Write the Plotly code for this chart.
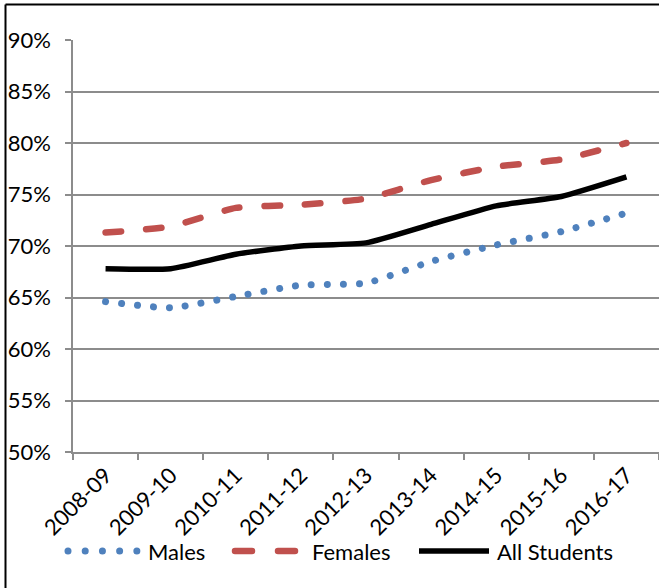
import plotly.graph_objects as go

# Graduation-rate style percentages by school year
years = ["2008-09", "2009-10", "2010-11", "2011-12", "2012-13",
         "2013-14", "2014-15", "2015-16", "2016-17"]
males = [64.6, 64.0, 65.1, 66.2, 66.4, 68.5, 70.1, 71.4, 73.2]
females = [71.3, 71.9, 73.7, 74.0, 74.6, 76.4, 77.7, 78.4, 80.0]
all_students = [67.8, 67.8, 69.2, 70.0, 70.3, 72.1, 73.9, 74.8, 76.7]

series_names = ["Males", "Females", "All Students"]
BLUE = "#4F81BD"
RED = "#C0504D"
BLACK = "#000000"
FONT = "Lato"
FS = 22

# plot-area geometry in pixels (used to place the frame and the legend)
W, H = 659, 588
ML, MR, MT, MB = 73, 0, 40, 136
PW, PH = W - ML - MR, H - MT - MB


def px_x(px):
    return (px - ML) / PW


def px_y(py):
    return (H - MB - py) / PH


fig = go.Figure()
fig.add_trace(go.Scatter(
    x=years, y=males, mode="lines", name=series_names[0],
    line=dict(color=BLUE, width=7, dash="6px,10px", shape="spline", smoothing=0.5),
    showlegend=False))
fig.add_trace(go.Scatter(
    x=years, y=females, mode="lines", name=series_names[1],
    line=dict(color=RED, width=6.5, dash="21px,19px", shape="spline", smoothing=0.5),
    showlegend=False))
fig.add_trace(go.Scatter(
    x=years, y=all_students, mode="lines", name=series_names[2],
    line=dict(color=BLACK, width=5.5, shape="spline", smoothing=0.5),
    showlegend=False))

shapes = [
    # outer chart frame (top and left edges)
    dict(type="line", xref="paper", yref="paper",
         x0=px_x(5.5), y0=px_y(4.5), x1=px_x(W + 5), y1=px_y(4.5),
         line=dict(color="black", width=2)),
    dict(type="line", xref="paper", yref="paper",
         x0=px_x(5.5), y0=px_y(4.5), x1=px_x(5.5), y1=px_y(H + 5),
         line=dict(color="black", width=2)),
]

# legend row: sample strokes plus labels
leg_y = px_y(551)
legend_items = [
    (series_names[0], BLUE, 7, "6px,11px", 68, 137, 146),
    (series_names[1], RED, 6.5, "23px,20px", 235, 295, 310),
    (series_names[2], BLACK, 5.5, "solid", 419, 489, 495),
]
annotations = []
for name, color, width, dash, x0, x1, tx in legend_items:
    shapes.append(dict(type="line", xref="paper", yref="paper",
                       x0=px_x(x0), y0=leg_y, x1=px_x(x1), y1=leg_y,
                       line=dict(color=color, width=width, dash=dash)))
    annotations.append(dict(text=name, xref="paper", yref="paper",
                            x=px_x(tx), y=leg_y, xanchor="left", yanchor="middle",
                            showarrow=False, font=dict(family=FONT, size=FS, color="black")))

fig.update_layout(
    width=W, height=H,
    margin=dict(l=ML, r=MR, t=MT, b=MB, pad=0),
    paper_bgcolor="white", plot_bgcolor="white",
    font=dict(family=FONT, size=FS, color="black"),
    shapes=shapes, annotations=annotations,
    showlegend=False,
)
fig.update_xaxes(
    type="category", range=[-0.5, 8.5],
    showgrid=False, showline=True, linecolor="#8c8c8c", linewidth=1.5,
    ticks="outside", ticklen=6, tickcolor="#8c8c8c", tickwidth=1.5,
    tickson="boundaries", tickangle=-45,
    tickfont=dict(family=FONT, size=FS, color="black"),
)
fig.update_yaxes(
    range=[50, 90], dtick=5, ticksuffix="%",
    showgrid=True, gridcolor="#8c8c8c", gridwidth=1.5,
    showline=True, linecolor="#8c8c8c", linewidth=1.5,
    ticks="outside", ticklen=6, tickcolor="#8c8c8c", tickwidth=1.5,
    ticklabelstandoff=10,
    zeroline=False,
    tickfont=dict(family=FONT, size=FS, color="black"),
)

# round caps for the dotted / dashed strokes (round dots, rounded dashes)
post = """
var gd = document.getElementById('{plot_id}');
function roundStrokes() {
  var lines = gd.querySelectorAll('.scatterlayer .trace .js-line');
  var styles = ['0.01px,16px', '15.5px,25px'];
  for (var i = 0; i < 2 && i < lines.length; i++) {
    lines[i].style.strokeLinecap = 'round';
    lines[i].style.strokeDasharray = styles[i];
  }
  var s2 = gd.querySelector('.shapelayer path[data-index="2"]');
  if (s2) { s2.style.strokeLinecap = 'round'; s2.style.strokeDasharray = '0.01px,17.2px'; }
  var s3 = gd.querySelector('.shapelayer path[data-index="3"]');
  if (s3) { s3.style.strokeLinecap = 'round'; s3.style.strokeDasharray = '17px,26px'; }
}
roundStrokes();
gd.on('plotly_afterplot', roundStrokes);
"""

fig.write_html("out.html", post_script=post)
